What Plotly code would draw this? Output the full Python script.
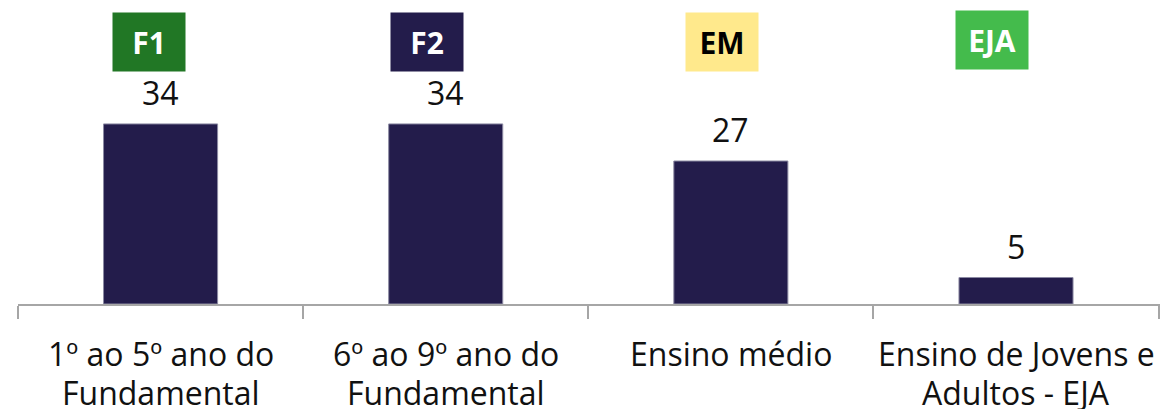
import plotly.graph_objects as go

# Data
categories = [
    "1º ao 5º ano do<br>Fundamental",
    "6º ao 9º ano do<br>Fundamental",
    "Ensino médio",
    "Ensino de Jovens e<br>Adultos - EJA",
]
values = [34, 34, 27, 5]
badges = ["F1", "F2", "EM", "EJA"]

# Styling
bar_color = "#231c4b"
badge_colors = ["#217725", "#231c4b", "#ffe98c", "#44bb4c"]
badge_text_colors = ["white", "white", "black", "white"]
badge_dx = [-11.5, -19, -9, -24.5]
badge_dy = [0, 0, 0, 2]
font_family = "Open Sans"

xs = list(range(len(categories)))
# tick marks sit on the category boundaries
boundaries = [x - 0.5 for x in xs] + [xs[-1] + 0.5]

fig = go.Figure()

fig.add_trace(go.Bar(
    x=xs,
    y=values,
    marker_color=bar_color,
    marker_line=dict(color="#8c8aa3", width=1),
    width=0.4,
    hoverinfo="skip",
))

annotations = []

# Value labels above bars
for x, v in zip(xs, values):
    annotations.append(dict(
        x=x, y=v, xref="x", yref="y",
        text=str(v), showarrow=False,
        yanchor="bottom", yshift=8,
        font=dict(family=font_family, size=32, color="#111111"),
    ))

# Category labels, one annotation per line so spacing matches
for x, label in zip(xs, categories):
    for i, line in enumerate(label.split("<br>")):
        annotations.append(dict(
            x=x, y=0, xref="x", yref="paper",
            text=line, showarrow=False,
            yanchor="top", yshift=-26 - 39 * i,
            font=dict(family=font_family, size=32, color="#111111"),
        ))

# Coloured badges at the top
for x, b, bc, tc, dx, dy in zip(xs, badges, badge_colors, badge_text_colors, badge_dx, badge_dy):
    annotations.append(dict(
        x=x, y=1, xref="x", yref="paper",
        text="<b>" + b + "</b>", showarrow=False,
        yanchor="middle", yshift=-42 + dy, xshift=dx,
        width=72, height=58, borderpad=0,
        bgcolor=bc,
        font=dict(family=font_family, size=30, color=tc),
    ))

fig.update_layout(
    width=1160,
    height=409,
    margin=dict(l=18, r=0, t=0, b=105),
    paper_bgcolor="white",
    plot_bgcolor="white",
    showlegend=False,
    annotations=annotations,
    xaxis=dict(
        range=[-0.5, 3.505],
        tickmode="array",
        tickvals=boundaries,
        ticktext=[""] * len(boundaries),
        ticks="outside",
        ticklen=13,
        tickcolor="#a6a6a6",
        tickwidth=1.5,
        showline=True,
        linecolor="#a6a6a6",
        linewidth=1.5,
        showgrid=False,
        zeroline=False,
        fixedrange=True,
    ),
    yaxis=dict(
        range=[0, 57.4],
        visible=False,
        fixedrange=True,
    ),
)

fig.write_html(
    "out.html",
    config={"displayModeBar": False},
    post_script="document.body.style.margin='0';",
)
